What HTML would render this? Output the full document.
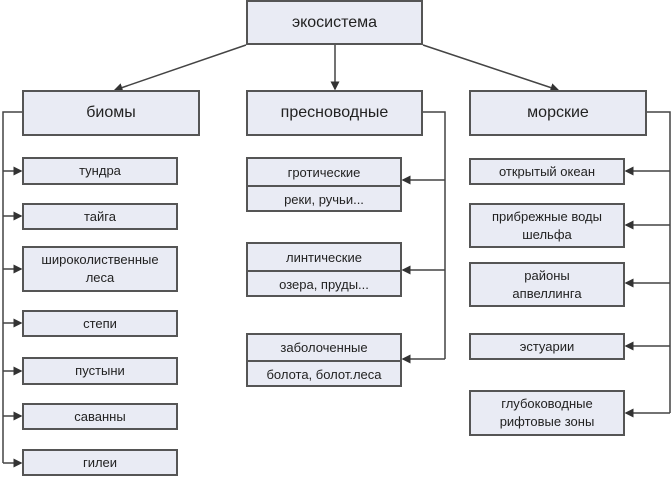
<!DOCTYPE html>
<html><head><meta charset="utf-8"><style>
body{margin:0;background:#fff;width:672px;height:477px;overflow:hidden;position:relative;font-family:"Liberation Sans",sans-serif;color:#222}
.b{position:absolute;box-sizing:border-box;background:#e9ebf4;border:2px solid #555;display:flex;align-items:center;justify-content:center;text-align:center;font-size:13px;line-height:18px}
.h{font-size:16px}
.s{position:absolute;box-sizing:border-box;background:#e9ebf4;border:2px solid #555;font-size:13px}
.s div{display:flex;align-items:center;justify-content:center}
svg{position:absolute;left:0;top:0}
</style></head><body>
<svg width="672" height="477"><defs><marker id="a" markerWidth="6" markerHeight="6" refX="5" refY="3" orient="auto"><path d="M0,0L6,3L0,6z" fill="#333"/></marker></defs>
<g stroke="#444" stroke-width="1.5" fill="none">
<line x1="246" y1="45" x2="115" y2="90" marker-end="url(#a)"/>
<line x1="335" y1="45" x2="335" y2="89" marker-end="url(#a)"/>
<line x1="423" y1="45" x2="558" y2="90" marker-end="url(#a)"/>
<polyline points="22,112 3,112 3,463"/>
<line x1="3" y1="171" x2="21" y2="171" marker-end="url(#a)"/>
<line x1="3" y1="216" x2="21" y2="216" marker-end="url(#a)"/>
<line x1="3" y1="269" x2="21" y2="269" marker-end="url(#a)"/>
<line x1="3" y1="323" x2="21" y2="323" marker-end="url(#a)"/>
<line x1="3" y1="371" x2="21" y2="371" marker-end="url(#a)"/>
<line x1="3" y1="416" x2="21" y2="416" marker-end="url(#a)"/>
<line x1="3" y1="463" x2="21" y2="463" marker-end="url(#a)"/>
<polyline points="423,112 445,112 445,359"/>
<line x1="445" y1="180" x2="403" y2="180" marker-end="url(#a)"/>
<line x1="445" y1="270" x2="403" y2="270" marker-end="url(#a)"/>
<line x1="445" y1="359" x2="403" y2="359" marker-end="url(#a)"/>
<polyline points="647,112 670,112 670,413"/>
<line x1="670" y1="171" x2="626" y2="171" marker-end="url(#a)"/>
<line x1="670" y1="225" x2="626" y2="225" marker-end="url(#a)"/>
<line x1="670" y1="283" x2="626" y2="283" marker-end="url(#a)"/>
<line x1="670" y1="346" x2="626" y2="346" marker-end="url(#a)"/>
<line x1="670" y1="413" x2="626" y2="413" marker-end="url(#a)"/>
</g></svg>
<div class="b h" style="left:246px;top:0;width:177px;height:45px">экосистема</div>
<div class="b h" style="left:22px;top:90px;width:178px;height:46px">биомы</div>
<div class="b h" style="left:246px;top:90px;width:177px;height:46px">пресноводные</div>
<div class="b h" style="left:469px;top:90px;width:178px;height:46px">морские</div>
<div class="b" style="left:22px;top:157px;width:156px;height:28px">тундра</div>
<div class="b" style="left:22px;top:203px;width:156px;height:27px">тайга</div>
<div class="b" style="left:22px;top:246px;width:156px;height:46px">широколиственные<br>леса</div>
<div class="b" style="left:22px;top:310px;width:156px;height:27px">степи</div>
<div class="b" style="left:22px;top:357px;width:156px;height:28px">пустыни</div>
<div class="b" style="left:22px;top:403px;width:156px;height:27px">саванны</div>
<div class="b" style="left:22px;top:449px;width:156px;height:27px">гилеи</div>
<div class="s" style="left:246px;top:157px;width:156px;height:55px"><div style="height:26px;border-bottom:2px solid #555">гротические</div><div style="height:25px">реки, ручьи...</div></div>
<div class="s" style="left:246px;top:242px;width:156px;height:55px"><div style="height:26px;border-bottom:2px solid #555">линтические</div><div style="height:25px">озера, пруды...</div></div>
<div class="s" style="left:246px;top:333px;width:156px;height:54px"><div style="height:25px;border-bottom:2px solid #555">заболоченные</div><div style="height:25px">болота, болот.леса</div></div>
<div class="b" style="left:469px;top:158px;width:156px;height:27px">открытый океан</div>
<div class="b" style="left:469px;top:203px;width:156px;height:45px">прибрежные воды<br>шельфа</div>
<div class="b" style="left:469px;top:262px;width:156px;height:45px">районы<br>апвеллинга</div>
<div class="b" style="left:469px;top:333px;width:156px;height:27px">эстуарии</div>
<div class="b" style="left:469px;top:390px;width:156px;height:46px">глубоководные<br>рифтовые зоны</div>
</body></html>
